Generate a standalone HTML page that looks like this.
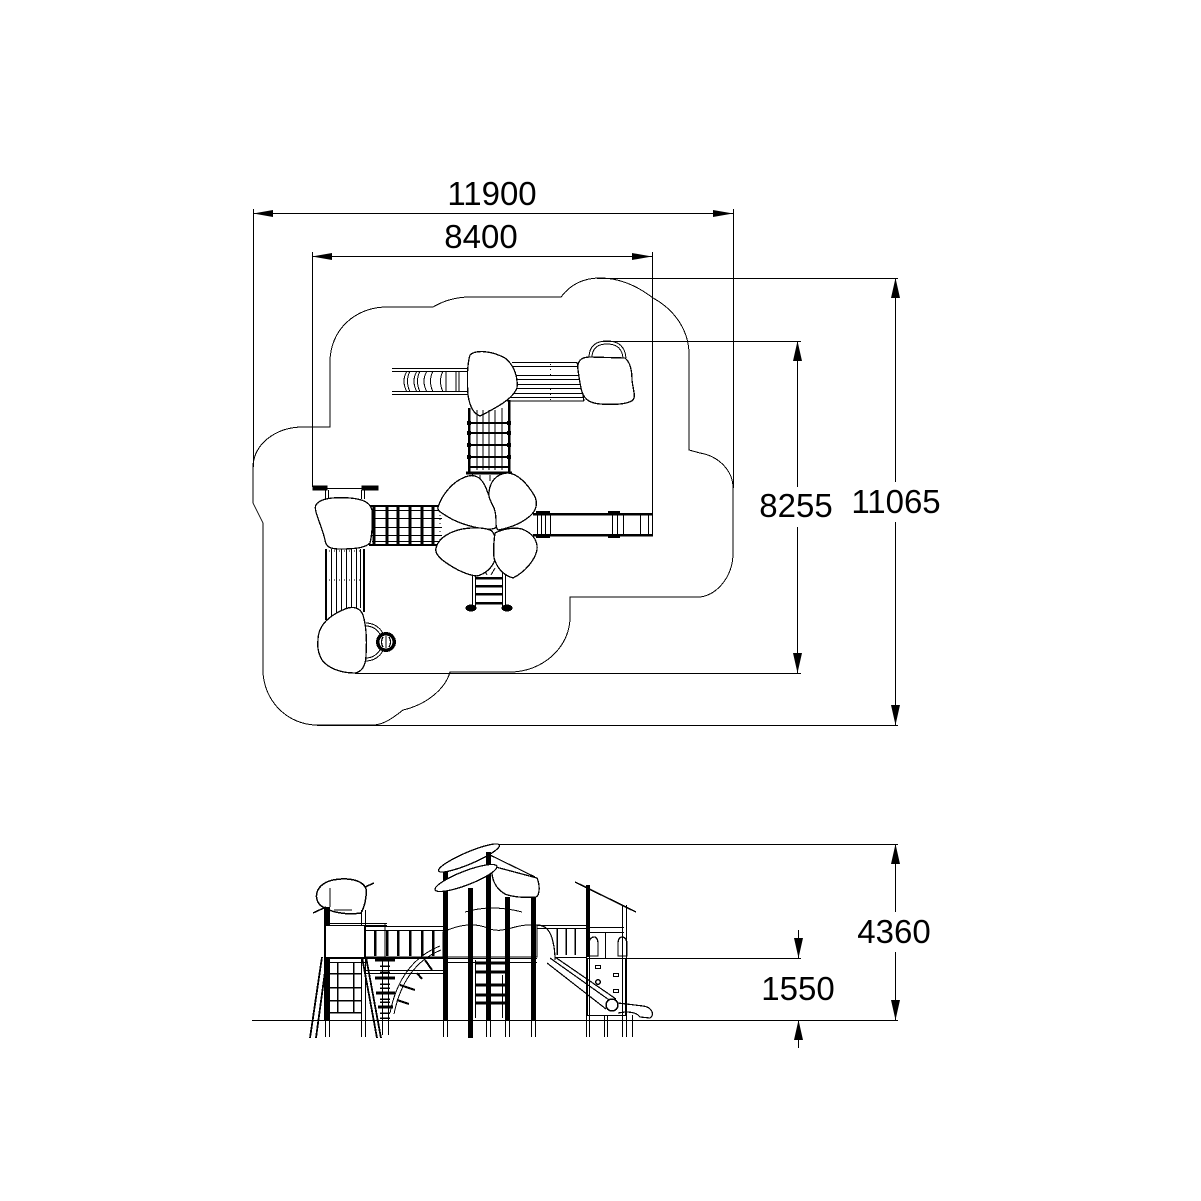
<!DOCTYPE html>
<html><head><meta charset="utf-8"><style>
html,body{margin:0;padding:0;background:#fff;}
svg{display:block;}
text{font-family:"Liberation Sans",Arial,sans-serif;font-size:33px;fill:#000;}
</style></head><body>
<svg width="1201" height="1201" viewBox="0 0 1201 1201" xmlns="http://www.w3.org/2000/svg">
<rect width="1201" height="1201" fill="#fff"/>
<g fill="none" stroke="#000" stroke-width="1" shape-rendering="crispEdges">
<!-- ===== PLAN VIEW ===== -->
<path d="M330,427 L330,362 C330,330 355,307 387,307 L433,307 C440,303 450,298 467,297 L561,297 C570,285 583,278 600,278 C622,278 640,288 653,298 C675,310 688,330 689,352 L689,450 L700,453 C718,456 733,470 733,488 L733,553 C733,578 715,597 698,597 L570,597 L570,617 C570,648 542,672 510,672 L450,672 C445,690 425,705 403,710 C393,718 383,725 373,725 L317,725 C287,725 263,700 263,670 L263,523 L253,503 L253,467 C253,445 275,427 303,427 Z"/>

<line x1="253.5" y1="209" x2="253.5" y2="467"/>
<line x1="733.5" y1="209" x2="733.5" y2="488"/>
<line x1="253" y1="213.5" x2="733" y2="213.5"/>
<line x1="312.5" y1="252" x2="312.5" y2="487"/>
<line x1="652.5" y1="252" x2="652.5" y2="514"/>
<line x1="312" y1="256.5" x2="652" y2="256.5"/>
<line x1="597" y1="278.5" x2="898" y2="278.5"/>
<line x1="603" y1="341.5" x2="801" y2="341.5"/>
<line x1="355" y1="673.5" x2="801" y2="673.5"/>
<line x1="317" y1="725.5" x2="898" y2="725.5"/>
<line x1="895.5" y1="278" x2="895.5" y2="482"/>
<line x1="895.5" y1="522" x2="895.5" y2="725"/>
<line x1="797.5" y1="341" x2="797.5" y2="487"/>
<line x1="797.5" y1="527" x2="797.5" y2="673"/>

<!-- top-left ladder -->
<line x1="392" y1="368.5" x2="469" y2="368.5"/>
<line x1="392" y1="371.5" x2="469" y2="371.5"/>
<line x1="392" y1="391.5" x2="469" y2="391.5"/>
<line x1="392" y1="394.5" x2="469" y2="394.5"/>
<path d="M407,371 Q401,381 407,392 M410,371 Q405,381 410,392 M417,371 Q411,381 417,392 M420,371 Q415,381 420,392 M427,371 Q421,381 427,392 M433,371 Q428,381 433,392 M443,371 Q438,381 443,392 M446,371 L446,392 M456,371 L456,392 M459,371 L459,392"/>

<!-- top bridge -->
<path d="M512,362.5 L577,362.5 M512,366.5 L578,366.5 M514,375.5 L580,375.5 M515,379.5 L580,379.5 M514,384.5 L581,384.5 M514,388.5 L582,388.5 M512,393.5 L583,393.5 M510,397.5 L583,397.5 M507,401 L584,401"/>
<path d="M577,362 L584,401" stroke-width="1.2"/>
<line x1="550.5" y1="364" x2="550.5" y2="400" stroke-dasharray="1 4"/>
<path d="M470,355 C475,350 490,350 505,358 C515,366 518,378 517,388 C513,398 500,406 480,416 C474,414 470,408 468,395 C467,380 467,365 470,355 Z" fill="#fff" stroke-width="1.3"/>
<path d="M589,358 C589,345 597,341 607,341 C617,341 625,345 626,358 M592,358 C592,347 599,344 607,344 C615,344 622,347 623,358"/>
<path d="M578,370 C577,362 580,357 590,357 L625,358 C630,362 632,370 632,380 C633,390 636,396 633,400 C628,404 615,405 600,404 C590,403 585,400 582,392 C580,385 579,377 578,370 Z" fill="#fff" stroke-width="1.3"/>

<!-- vertical net -->
<g>
<line x1="469" y1="408" x2="469" y2="472" stroke-width="2.5"/>
<line x1="509" y1="400" x2="509" y2="472" stroke-width="2.5"/>
<path d="M477,410 L477,470 M483,410 L483,470 M489,410 L489,470 M495,410 L495,470 M502,408 L502,470"/>
<path d="M469,423 L509,423 M469,433 L509,433 M469,445 L509,445 M469,457 L509,457 M469,467 L509,467" stroke-width="2.2"/>
<path d="M467,423 h4 M467,433 h4 M467,445 h4 M467,457 h4 M507,423 h4 M507,433 h4 M507,445 h4 M507,457 h4" stroke-width="4"/>
<line x1="466" y1="473" x2="512" y2="473" stroke-width="3"/>
<path d="M472,474 L485,500 M507,474 L495,495 M480,475 L480,481 M490,475 L490,481 M500,475 L500,481"/>
</g>

<!-- left rail bar & posts -->
<line x1="313" y1="488.5" x2="378" y2="488.5"/>
<rect x="313" y="486" width="14" height="4" fill="#000"/>
<rect x="362" y="486" width="16" height="4" fill="#000"/>
<path d="M325.5,490 L325.5,499 M328.5,490 L328.5,499 M361.5,490 L361.5,499 M364.5,490 L364.5,499"/>

<!-- left bridge net -->
<g>
<line x1="369" y1="506" x2="442" y2="506" stroke-width="2"/>
<line x1="369" y1="545" x2="442" y2="545" stroke-width="2"/>
<path d="M372,510.5 L442,510.5 M372,518.5 L442,518.5 M372,527.5 L442,527.5 M372,535.5 L442,535.5 M372,541.5 L442,541.5"/>
<path d="M374,505 L374,546 M387,505 L387,546 M398,505 L398,546 M410,505 L410,546 M422,505 L422,546 M433,505 L433,546" stroke-width="2.8"/>
<path d="M370,507 L370,544 M440,507 L440,544" stroke-dasharray="1 3"/>
</g>

<path d="M316,505 C320,498 335,497 350,498 C362,499 370,502 372,510 C373,522 372,535 370,543 C365,548 355,549 340,549 C330,549 326,547 325,540 C323,530 318,520 316,512 C315,508 315,506 316,505 Z" fill="#fff" stroke-width="1.3"/>

<!-- vertical slide -->
<line x1="326" y1="549" x2="326" y2="620" stroke-width="2"/>
<line x1="364" y1="549" x2="364" y2="612" stroke-width="2"/>
<path d="M331.5,549 L331.5,617 M336.5,549 L336.5,614 M341.5,549 L341.5,612 M346.5,549 L346.5,610 M351.5,549 L351.5,609 M356.5,549 L356.5,608 M360.5,549 L360.5,608"/>
<path d="M329,551 h34 M329,580 h34" stroke-dasharray="1 4"/>

<path d="M318,640 C318,625 330,615 345,609 C352,606 360,607 363,615 C366,625 367,640 366,655 C366,665 362,672 355,673 C340,673 328,668 322,660 C318,653 317,647 318,640 Z" fill="#fff" stroke-width="1.3"/>
<path d="M366,623 A19,19 0 0 1 366,661 M366,626 A16,16 0 0 1 366,658"/>
<circle cx="386" cy="642" r="10" fill="#000" stroke="none"/>
<circle cx="386" cy="642" r="6.5" fill="#fff" stroke="none"/>
<path d="M383,637 Q380,642 383,647 M389,637 Q392,642 389,647 M386,636 L386,648" stroke-width="1.2"/>

<!-- right slide -->
<line x1="533" y1="514" x2="653" y2="514" stroke-width="2.5"/>
<line x1="533" y1="535" x2="653" y2="535" stroke-width="2.5"/>
<path d="M537.5,514 L537.5,535 M541.5,514 L541.5,535 M545.5,514 L545.5,535 M550.5,514 L550.5,535 M612.5,514 L612.5,535 M617.5,514 L617.5,535 M623.5,514 L623.5,535 M640.5,514 L640.5,535 M648.5,514 L648.5,535 M652.5,514 L652.5,535"/>
<path d="M536,513 h14 M608,513 h12 M536,536 h14 M608,536 h12" stroke-width="4"/>

<!-- bottom ladder -->
<path d="M472.5,570 L472.5,608 M475.5,570 L475.5,608 M502.5,570 L502.5,608 M505.5,570 L505.5,608"/>
<path d="M475,578 L503,578 M475,586 L503,586 M475,594 L503,594 M475,603 L503,603" stroke-width="2.5"/>
<ellipse cx="471" cy="608" rx="5" ry="3" fill="#000"/>
<ellipse cx="507" cy="608" rx="5" ry="3" fill="#000"/>
<path d="M483,568 L487,575 M495,568 L491,575"/>

<!-- flower petals -->
<path d="M438,507 C442,495 452,482 465,477 C475,473 482,478 486,488 C490,500 497,512 499,520 C500,527 495,530 485,529 C470,527 455,522 445,515 C440,512 437,510 438,507 Z" fill="#fff" stroke-width="1.3"/>
<path d="M489,492 C490,482 496,474 507,473 C518,473 528,485 534,495 C538,502 537,510 530,516 C522,523 510,528 498,530 C494,526 498,518 494,508 C490,500 488,496 489,492 Z" fill="#fff" stroke-width="1.3"/>
<path d="M436,548 C438,540 445,534 458,530 C470,527 485,527 492,531 C497,538 498,550 495,560 C492,568 485,574 477,576 C466,575 455,569 445,562 C438,557 435,552 436,548 Z" fill="#fff" stroke-width="1.3"/>
<path d="M495,533 C503,529 513,527 522,529 C532,533 538,540 537,550 C535,560 525,572 513,578 C503,575 497,568 494,558 C493,548 494,540 495,533 Z" fill="#fff" stroke-width="1.3"/>

<!-- ===== ELEVATION ===== -->
<line x1="252" y1="1020.5" x2="898" y2="1020.5"/>
<line x1="495" y1="844.5" x2="898" y2="844.5"/>
<line x1="625" y1="958.5" x2="801" y2="958.5"/>
<line x1="895.5" y1="844" x2="895.5" y2="912"/>
<line x1="895.5" y1="952" x2="895.5" y2="1020"/>
<line x1="798.5" y1="930" x2="798.5" y2="958"/>
<line x1="798.5" y1="1020" x2="798.5" y2="1048"/>

<!-- left tower -->
<path d="M320,905 C313,897 316,884 333,880 C348,877 363,880 366,889 C367,898 364,908 361,913 C347,915 330,913 320,905 Z" fill="#fff" stroke-width="1.5"/>
<path d="M313,913 L326,907 M365,887 L374,883" stroke-width="1.5"/>
<rect x="324" y="907" width="6" height="113" fill="#000" stroke="none"/>
<path d="M361.5,910 L361.5,1037 M365.5,910 L365.5,1037 M325.5,1020 L325.5,1037 M329.5,1020 L329.5,1037"/>
<path d="M328,923.5 L387,923.5 M328,925.5 L387,925.5"/>
<rect x="325.5" y="925.5" width="39" height="32" fill="#fff"/>
<path d="M324,958.5 L366,958.5 M324,962.5 L366,962.5"/>
<path d="M337.5,962 L337.5,1012 M353.5,962 L353.5,1012 M328,973.5 L362,973.5 M328,987.5 L362,987.5 M328,1000.5 L362,1000.5 M328,1012.5 L362,1012.5" stroke-width="1.5"/>
<path d="M322,957 L310,1038 M327,957 L316,1038 M362,957 L377,1038 M366,957 L381,1038" stroke-width="1.8"/>
<path d="M330,888 L330,907 M334,910 L352,910"/>

<!-- left bridge -->
<path d="M365,926.5 L443,926.5 M365,930.5 L443,930.5"/>
<path d="M375,930 L375,956 M387,930 L387,956 M398,930 L398,956 M410,930 L410,956 M422,930 L422,956 M433,930 L433,956" stroke-width="2.5"/>
<path d="M365,957.5 L443,957.5" stroke-width="2.5"/>
<path d="M365,970.5 L445,970.5 M365,973.5 L445,973.5"/>
<path d="M385,923 L385,958" />
<path d="M382.5,958 L382.5,1035 M388.5,958 L388.5,1035"/>
<path d="M375,960 L395,960 M375,978 L395,978 M376,993 L395,993 M378,1007 L393,1007" stroke-width="3"/>
<path d="M380,966 h10 M380,972 h10 M380,984 h10 M380,988 h10 M380,999 h10 M380,1002 h10 M380,1013 h10 M380,1018 h10" stroke-width="1.5"/>
<path d="M390,1013 Q400,962 440,946 M394,1014 Q404,965 441,950" />
<path d="M400,985 L415,990 M397,1000 L409,1004 M417,973 L422,979 M425,960 L432,970" stroke-width="2"/>

<!-- center tower -->
<path d="M443,932 C458,925 475,922 490,929 C505,934 515,923 537,925 L537,957 L443,957 Z" fill="#fff"/>
<path d="M443,958.5 L537,958.5 M443,962.5 L537,962.5"/>
<path d="M465,912 Q492,904 522,912"/>
<rect x="443" y="870" width="5" height="150" fill="#000" stroke="none"/>
<rect x="468" y="888" width="5" height="150" fill="#000" stroke="none"/>
<rect x="486" y="852" width="5" height="168" fill="#000" stroke="none"/>
<rect x="505" y="897" width="5" height="123" fill="#000" stroke="none"/>
<rect x="531" y="882" width="5" height="138" fill="#000" stroke="none"/>
<path d="M443.5,1020 L443.5,1037 M447.5,1020 L447.5,1037 M486.5,1020 L486.5,1037 M490.5,1020 L490.5,1037 M505.5,1020 L505.5,1037 M509.5,1020 L509.5,1037 M531.5,1020 L531.5,1037 M535.5,1020 L535.5,1037"/>
<path d="M476,963 L505,963 M476,972 L505,972 M476,985 L505,985 M476,995 L505,995 M476,1003 L505,1003" stroke-width="3"/>
<path d="M475.5,960 L475.5,1018 M502.5,975 L502.5,1018"/>
<path d="M490,855 L535,877" stroke-width="1.2"/>
<ellipse cx="469" cy="858" rx="33" ry="6" transform="rotate(-23 469 858)" fill="#fff" stroke-width="1.3"/>
<path d="M492,866 L537,878 C540,885 540,895 536,897 C525,898 512,897 505,894 C498,890 493,883 492,874 Z" fill="#fff" stroke-width="1.3"/>
<ellipse cx="466" cy="878" rx="33" ry="7" transform="rotate(-21 466 878)" fill="#fff" stroke-width="1.3"/>
<rect x="486" y="852" width="5" height="12" fill="#000" stroke="none"/>

<!-- right slide -->
<path d="M537,925 C546,925 551,932 553,942 C555,950 555,955 555,960" stroke-width="1.2"/>
<path d="M550,958 L612,1002 M547,963 L606,1009 M555,957 L616,999" stroke-width="1.2"/>
<circle cx="612" cy="1005" r="6" fill="#fff" stroke-width="1.5"/>
<path d="M618,1003 L643,1006 C652,1007 655,1015 650,1018 L640,1017 C637,1013 632,1012 625,1012 L618,1013" stroke-width="1.2"/>
<path d="M537,925.5 L587,925.5 M537,928.5 L587,928.5 M555,957.5 L587,957.5"/>
<path d="M557,928 L557,955 M566,928 L566,955 M575,928 L575,955" stroke-width="1.5"/>

<!-- right tower -->
<path d="M575,882 L636,912" stroke-width="1.5"/>
<rect x="586" y="885" width="4" height="72" fill="#000" stroke="none"/>
<path d="M586.5,957 L586.5,1037 M589.5,957 L589.5,1037 M622.5,905 L622.5,1037 M626.5,905 L626.5,1037 M604.5,1015 L604.5,1037 M607.5,1015 L607.5,1037 M632.5,1015 L632.5,1037"/>
<path d="M588,927.5 L624,927.5 M588,932.5 L624,932.5 M605.5,932 L605.5,958"/>
<path d="M589,956 L589,944 C589,939 592,937 594,937 C597,937 598,940 598,944 L598,956 Z" stroke-width="1.3"/>
<path d="M618,956 L618,944 C618,939 620,937 622,937 C625,937 627,940 627,944 L627,956 Z" stroke-width="1.3"/>
<rect x="587.5" y="958.5" width="38" height="57" fill="none"/>
<rect x="595.5" y="965.5" width="5" height="3"/>
<rect x="613.5" y="973.5" width="5" height="3"/>
<circle cx="598" cy="982" r="2.2" stroke-width="1.5"/>
<rect x="613.5" y="989.5" width="5" height="3"/>
</g>

<g fill="#000" stroke="none">
<polygon points="253,213.5 273,210 273,217"/>
<polygon points="733,213.5 713,210 713,217"/>
<polygon points="312,256.5 332,253 332,260"/>
<polygon points="652,256.5 632,253 632,260"/>
<polygon points="895.5,278 891,298 900,298"/>
<polygon points="895.5,725 891,705 900,705"/>
<polygon points="797.5,341 793,361 802,361"/>
<polygon points="797.5,673 793,653 802,653"/>
<polygon points="895.5,844 891,864 900,864"/>
<polygon points="895.5,1020 891,1000 900,1000"/>
<polygon points="798.5,958 794,938 803,938"/>
<polygon points="798.5,1020 794,1040 803,1040"/>
</g>

<text x="492" y="205" text-anchor="middle">11900</text>
<text x="481" y="248" text-anchor="middle">8400</text>
<text x="796" y="517" text-anchor="middle">8255</text>
<text x="896" y="513" text-anchor="middle">11065</text>
<text x="894" y="943" text-anchor="middle">4360</text>
<text x="798" y="1000" text-anchor="middle">1550</text>
</svg>
</body></html>
